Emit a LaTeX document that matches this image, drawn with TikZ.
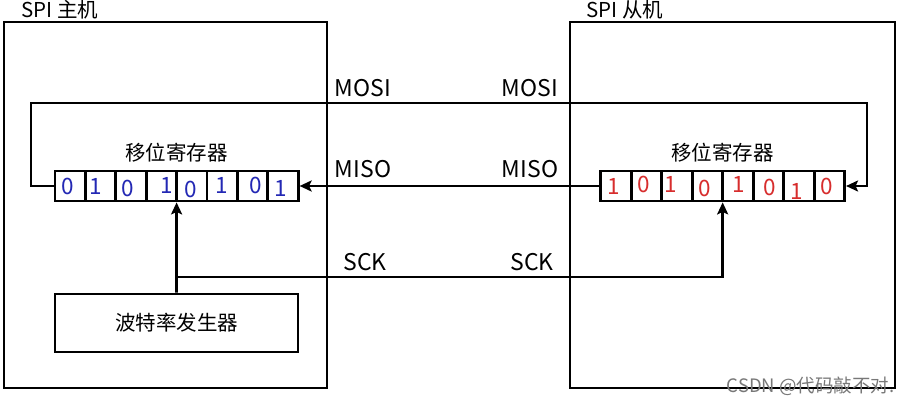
\documentclass[tikz,border=0pt]{standalone}
\usepackage{fontspec}
\setmainfont{Noto Sans CJK SC}
\usepackage{xcolor}
\definecolor{bitblue}{RGB}{35,40,180}
\definecolor{bitred}{RGB}{215,45,45}
\definecolor{wmgray}{RGB}{120,120,120}
\usetikzlibrary{arrows.meta,positioning,fit}

\begin{document}
\begin{tikzpicture}[
  x=1pt,y=-1pt,
  line width=2.8pt,
  font=\fontsize{20.5}{24}\selectfont,
  devbox/.style={rectangle,draw,inner sep=0pt,minimum height=366pt},
  cell/.style={rectangle,draw,inner sep=0pt,minimum width=30.4pt,minimum height=30pt},
  digit/.style={inner sep=0pt,font=\fontsize{22.5}{24}\selectfont},
  sig/.style={font=\fontsize{23}{26}\selectfont},
  regfit/.style={inner sep=0pt,outer sep=0pt},
  genbox/.style={rectangle,draw,inner sep=0pt,minimum width=243pt,minimum height=58pt},
  arrow/.style={-{Stealth[length=12pt,width=11pt,inset=2.5pt]}}
]
  \useasboundingbox (0,0) rectangle (917,407);

  % Devices
  \node[devbox,minimum width=323pt] (host) at (165.5,205) {};
  \node[devbox,minimum width=325pt] (slave) at (732.5,205) {};
  \node[anchor=base west,inner sep=0pt] (hosttitle) at (20,17) {SPI 主机};
  \node[anchor=base west,inner sep=0pt] (slavetitle) at (585,17) {SPI 从机};

  % Host shift register
  \foreach \b/\dx/\dy [count=\i] in {0/-2/0,1/-5/0,0/-3/-2,1/5/1,0/-1/-3.5,1/0/0.5,0/3/1,1/-2/-2} {
    \node[cell] (l\i) at ({70.2+(\i-1)*30.4},186) {};
    \node[digit,text=bitblue] (ld\i) at ([xshift=\dx,yshift=\dy]l\i.center) {\b};
  }
  \node[regfit,fit=(l1)(l8)] (lreg) {};
  \node[above=3pt of lreg] (llab) {移位寄存器};

  % Slave shift register
  \foreach \b/\dx/\dy [count=\i] in {1/-2/0,0/-3/2,1/-6/2,0/-3/-2,1/1/2,0/1/-1,1/-2/-5,0/-3/0} {
    \node[cell,minimum width=30.5pt] (r\i) at ({615.9+(\i-1)*30.5},186) {};
    \node[digit,text=bitred] (rd\i) at ([xshift=\dx,yshift=\dy]r\i.center) {\b};
  }
  \node[regfit,fit=(r1)(r8)] (rreg) {};
  \node[above=3pt of rreg] (rlab) {移位寄存器};

  % Baud rate generator
  \node[genbox] (baud) at (176.5,323) {波特率发生器};

  % Signal labels
  \node[sig] (mosil) at (363,88) {MOSI};
  \node[sig] (mosir) at (530,88) {MOSI};
  \node[sig] (misol) at (363,169) {MISO};
  \node[sig] (misor) at (530,169) {MISO};
  \node[sig] (sckl) at (365,262) {SCK};
  \node[sig] (sckr) at (532,262) {SCK};

  % Lines
  \coordinate (mosiA) at (31,103);
  \coordinate (mosiB) at (867,103);
  \coordinate (sckA) at (176.5,277);
  \draw[arrow] (lreg.west) -| (mosiA) -- (mosiB) |- (rreg.east);
  \draw[arrow] (rreg.west) -- (lreg.east);
  \draw[arrow] (baud.north) -- (lreg.south);
  \draw[arrow] (sckA) -| (rreg.south);

  % Watermark
  \node[anchor=west,text=wmgray,font=\fontsize{18.5}{20}\selectfont] (wm) at (722,386) {CSDN @代码敲不对.};
\end{tikzpicture}
\end{document}
